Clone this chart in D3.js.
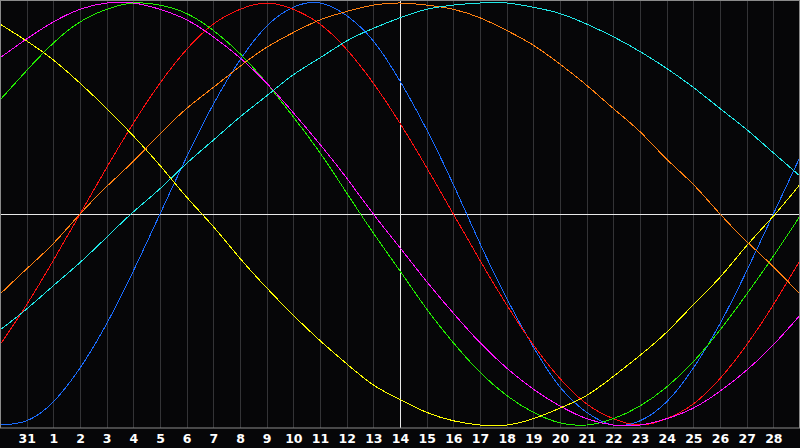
<!DOCTYPE html>
<html>
<head>
<meta charset="utf-8">
<script src="https://cdn.jsdelivr.net/npm/d3@7"></script>
<style>
  body { margin: 0; background: #060608; }
  svg { display: block; }
</style>
</head>
<body>
<div id="chart"></div>
<script>
var width = 800, height = 448;
var plotBottom = 428;

// one label per grid line, from the 30th to the 1st of the month after
var days = [30, 31, 1, 2, 3, 4, 5, 6, 7, 8, 9, 10, 11, 12, 13, 14, 15, 16, 17, 18,
            19, 20, 21, 22, 23, 24, 25, 26, 27, 28, 1];
var todayIndex = 15;

// curve values (percent) read at each grid line
var blue    = [-100, -98, -89, -73, -52, -27, 0, 27, 52, 73, 89, 98, 100, 94, 82, 63,
               40, 14, -14, -40, -63, -82, -94, -100, -98, -89, -73, -52, -27, 0, 27];
var red     = [-62, -43, -22, 0, 22, 43, 62, 78, 90, 97, 100, 97, 90, 78, 62, 43,
               22, 0, -22, -43, -62, -78, -90, -97, -100, -97, -90, -78, -62, -43, -22];
var green   = [54, 68, 81, 91, 97, 100, 99, 95, 87, 76, 62, 46, 29, 10, -9, -27,
               -45, -61, -75, -86, -94, -99, -100, -97, -91, -82, -70, -55, -38, -20, -1];
var magenta = [74, 83, 91, 97, 100, 100, 97, 92, 84, 74, 62, 48, 33, 17, 0, -16,
               -32, -47, -61, -73, -83, -91, -97, -100, -100, -97, -92, -84, -74, -62, -48];
var yellow  = [90, 82, 73, 62, 50, 37, 23, 8, -6, -21, -35, -48, -60, -71, -81, -88,
               -94, -98, -100, -100, -97, -92, -86, -77, -67, -56, -43, -30, -15, -1, 14];
var orange  = [-38, -26, -14, 0, 13, 25, 38, 50, 60, 70, 79, 86, 92, 96, 99, 100,
               99, 97, 93, 87, 80, 71, 61, 50, 39, 26, 14, 0, -13, -25, -38];
var cyan    = [-55, -45, -34, -23, -11, 1, 12, 24, 35, 46, 56, 66, 74, 82, 88, 93,
               97, 99, 100, 100, 98, 95, 90, 84, 77, 69, 60, 50, 40, 29, 18];

var series = [blue, red, green, magenta, yellow, orange, cyan];
var colors = ['#1a6cff', '#ff1010', '#22ee00', '#ff10ff', '#ffff00', '#ff8010', '#20e8e8'];

var svg = d3.select("#chart")
    .append("svg")
    .attr("width", width)
    .attr("height", height)
    .style("background", "#060608");

var x = d3.scaleLinear().domain([0, days.length - 1]).range([0, width]);
var y = d3.scaleLinear().domain([-100, 100]).range([425, 3]);

// day grid
svg.selectAll(".grid")
    .data(days)
    .enter()
    .append("line")
    .attr("class", "grid")
    .attr("x1", function(d, i){ return Math.round(x(i)) + 0.5; })
    .attr("x2", function(d, i){ return Math.round(x(i)) + 0.5; })
    .attr("y1", 0)
    .attr("y2", plotBottom)
    .attr("stroke", "#333336")
    .attr("stroke-width", 1);

// centre lines
svg.append("line")
    .attr("x1", 0).attr("x2", width)
    .attr("y1", Math.round(y(0)) + 0.5).attr("y2", Math.round(y(0)) + 0.5)
    .attr("stroke", "#e8e8e8");
svg.append("line")
    .attr("x1", Math.round(x(todayIndex)) + 0.5).attr("x2", Math.round(x(todayIndex)) + 0.5)
    .attr("y1", 0).attr("y2", plotBottom)
    .attr("stroke", "#e8e8e8");

var line = d3.line()
    .x(function(d, i){ return x(i); })
    .y(function(d){ return y(d); })
    .curve(d3.curveNatural);

svg.selectAll(".curve")
    .data(series)
    .enter()
    .append("path")
    .attr("class", "curve")
    .attr("d", line)
    .attr("fill", "none")
    .attr("stroke", function(d, i){ return colors[i]; })
    .attr("stroke-width", 1)
    .attr("shape-rendering", "crispEdges");

// frame
svg.append("rect")
    .attr("x", 0.5)
    .attr("y", 0.5)
    .attr("width", width - 1)
    .attr("height", plotBottom - 0.5)
    .attr("fill", "none")
    .attr("stroke", "#8a8a8a");

// day labels
var xAxis = svg.append("g")
    .attr("transform", "translate(0," + plotBottom + ")")
    .call(d3.axisBottom(x)
        .tickValues(d3.range(1, days.length - 1))
        .tickFormat(function(i){ return days[i]; })
        .tickSize(0)
        .tickPadding(6));
xAxis.select(".domain").remove();
xAxis.selectAll("text")
    .attr("fill", "#ffffff")
    .attr("font-family", "DejaVu Sans")
    .attr("font-weight", "bold")
    .attr("font-size", "12.5px");
</script>
</body>
</html>
